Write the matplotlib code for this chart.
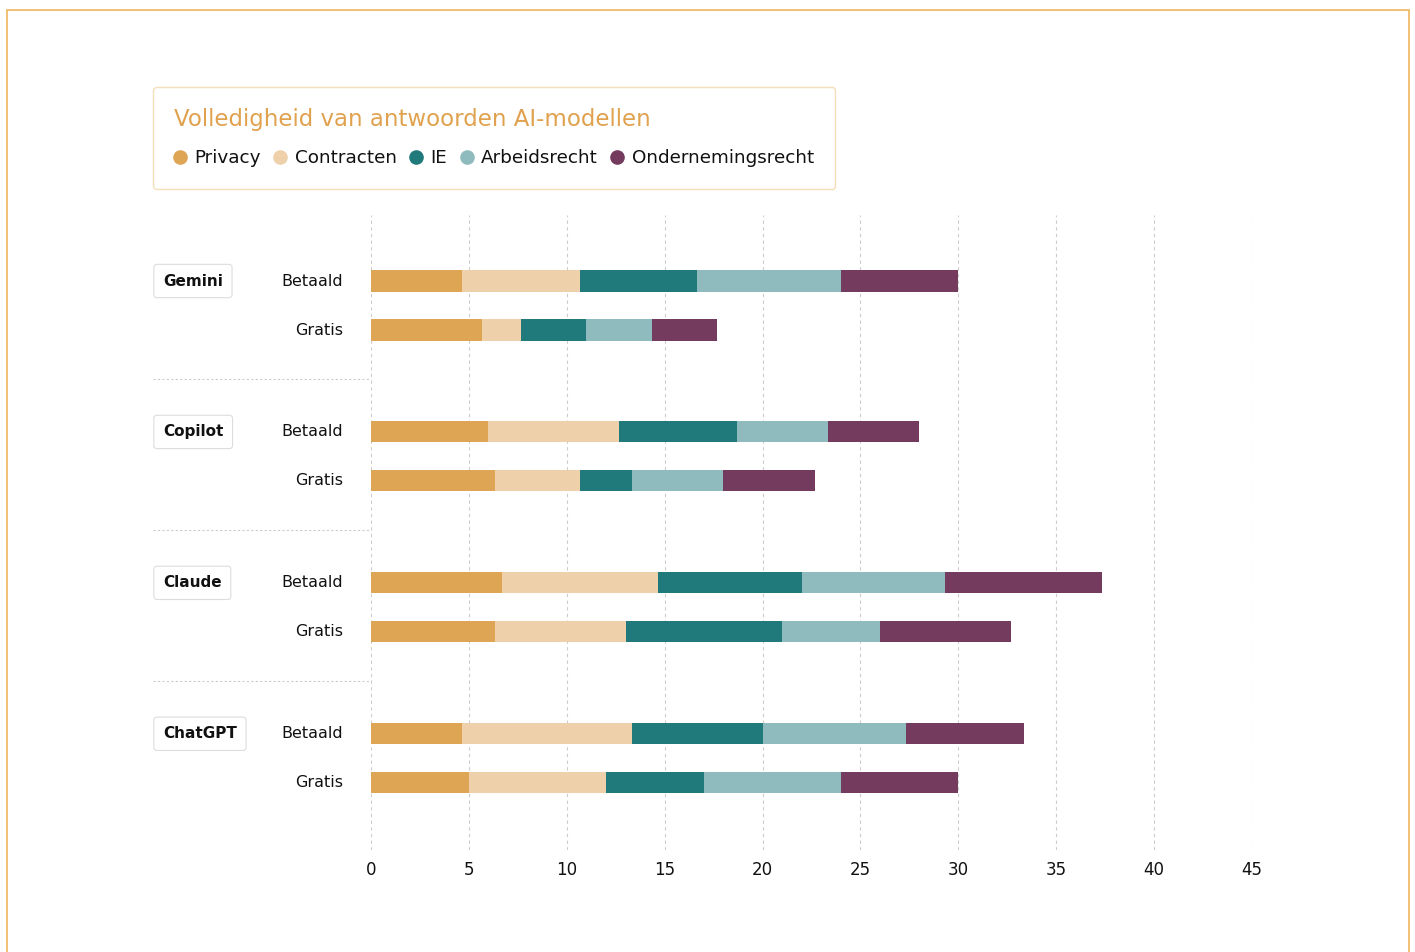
import matplotlib
matplotlib.use("Agg")
import matplotlib.pyplot as plt
import matplotlib.transforms as mtransforms
from matplotlib.lines import Line2D
from matplotlib.patches import Rectangle
import numpy as np

# Data
models = ['Gemini', 'Copilot', 'Claude', 'ChatGPT']
tiers = ['Betaald', 'Gratis']
categories = ['Privacy', 'Contracten', 'IE', 'Arbeidsrecht', 'Ondernemingsrecht']

# one value per row: Gemini B, Gemini G, Copilot B, Copilot G, Claude B, Claude G, ChatGPT B, ChatGPT G
privacy = [4.67, 5.67, 6.0, 6.33, 6.67, 6.33, 4.67, 5.0]
contracten = [6.0, 2.0, 6.67, 4.33, 8.0, 6.67, 8.67, 7.0]
ie = [6.0, 3.33, 6.0, 2.67, 7.33, 8.0, 6.67, 5.0]
arbeidsrecht = [7.33, 3.33, 4.67, 4.67, 7.33, 5.0, 7.33, 7.0]
ondernemingsrecht = [6.0, 3.33, 4.67, 4.67, 8.0, 6.67, 6.0, 6.0]

colors = ['#dea555', '#eed0aa', '#20797b', '#90bbbe', '#743b5e']
title = 'Volledigheid van antwoorden AI-modellen'

W, H = 1415, 952
fig = plt.figure(figsize=(W / 100, H / 100), dpi=100)
plt.rcParams['font.family'] = ['DejaVu Sans']

# plot area: x 0..45 from px 371 to 1252, y from px 215 to 850
ax = fig.add_axes([371 / W, (H - 850) / H, 881 / W, 635 / H])

group_step = 3.08
ypos = []
for i in range(len(models)):
    for j in range(len(tiers)):
        ypos.append(i * group_step + j)
ypos = np.array(ypos)

series = [privacy, contracten, ie, arbeidsrecht, ondernemingsrecht]
left = np.zeros(len(ypos))
for vals, c in zip(series, colors):
    vals = np.array(vals)
    ax.barh(ypos, vals, left=left, height=0.43, color=c, edgecolor='none', zorder=3)
    left += vals

ax.set_xlim(0, 45)
ax.set_ylim(11.612, -1.347)
ax.set_xticks(np.arange(0, 46, 5))
ax.set_yticks([])
ax.tick_params(axis='x', length=0, pad=8, labelsize=12, labelcolor='#111111')
for s in ax.spines.values():
    s.set_visible(False)
ax.grid(axis='x', color='#cccccc', linestyle=(0, (3, 3)), linewidth=0.8, zorder=0)

# row labels and model boxes
trans = mtransforms.blended_transform_factory(fig.transFigure, ax.transData)
for k, y in enumerate(ypos):
    ax.text(343 / W, y, tiers[k % 2], transform=trans, ha='right', va='center',
            fontsize=11.5, color='#111111')
for i, m in enumerate(models):
    ax.text(163 / W, i * group_step, m, transform=trans, ha='left', va='center',
            fontsize=11, fontweight='bold', color='#111111',
            bbox=dict(boxstyle='round,pad=0.6,rounding_size=0.2', fc='white',
                      ec='#dddddd', lw=0.8))
    if i > 0:
        ysep = i * group_step - 1.08
        ax.add_line(Line2D([153 / W, 371 / W], [ysep, ysep], transform=trans,
                           color='#cccccc', lw=0.8, linestyle=(0, (2, 2)), clip_on=False))

# legend box
handles = [Line2D([], [], marker='o', linestyle='', markersize=9.5, color=c,
                  markeredgecolor=c) for c in colors]
leg = fig.legend(handles, categories, loc='upper left',
                 bbox_to_anchor=(153 / W, 1 - 87 / H), ncol=5, title=title,
                 alignment='left', frameon=True, fancybox=True, framealpha=1,
                 edgecolor='#f3dfb8', fontsize=13.2, title_fontsize=16.5,
                 handlelength=0.6, handletextpad=0.5, columnspacing=0.75,
                 borderpad=1.15, labelspacing=1.0, borderaxespad=0)
leg.get_title().set_color('#e0a24e')
leg.get_frame().set_linewidth(1.0)
for t in leg.get_texts():
    t.set_color('#111111')

# outer border
fig.patches.append(Rectangle((6.5 / W, -0.02), (1409 - 6.5) / W, 1.02 - 10.5 / H,
                             transform=fig.transFigure, fill=False,
                             edgecolor='#efb560', lw=1.2))

fig.savefig('out.png', dpi=100, facecolor='white')
